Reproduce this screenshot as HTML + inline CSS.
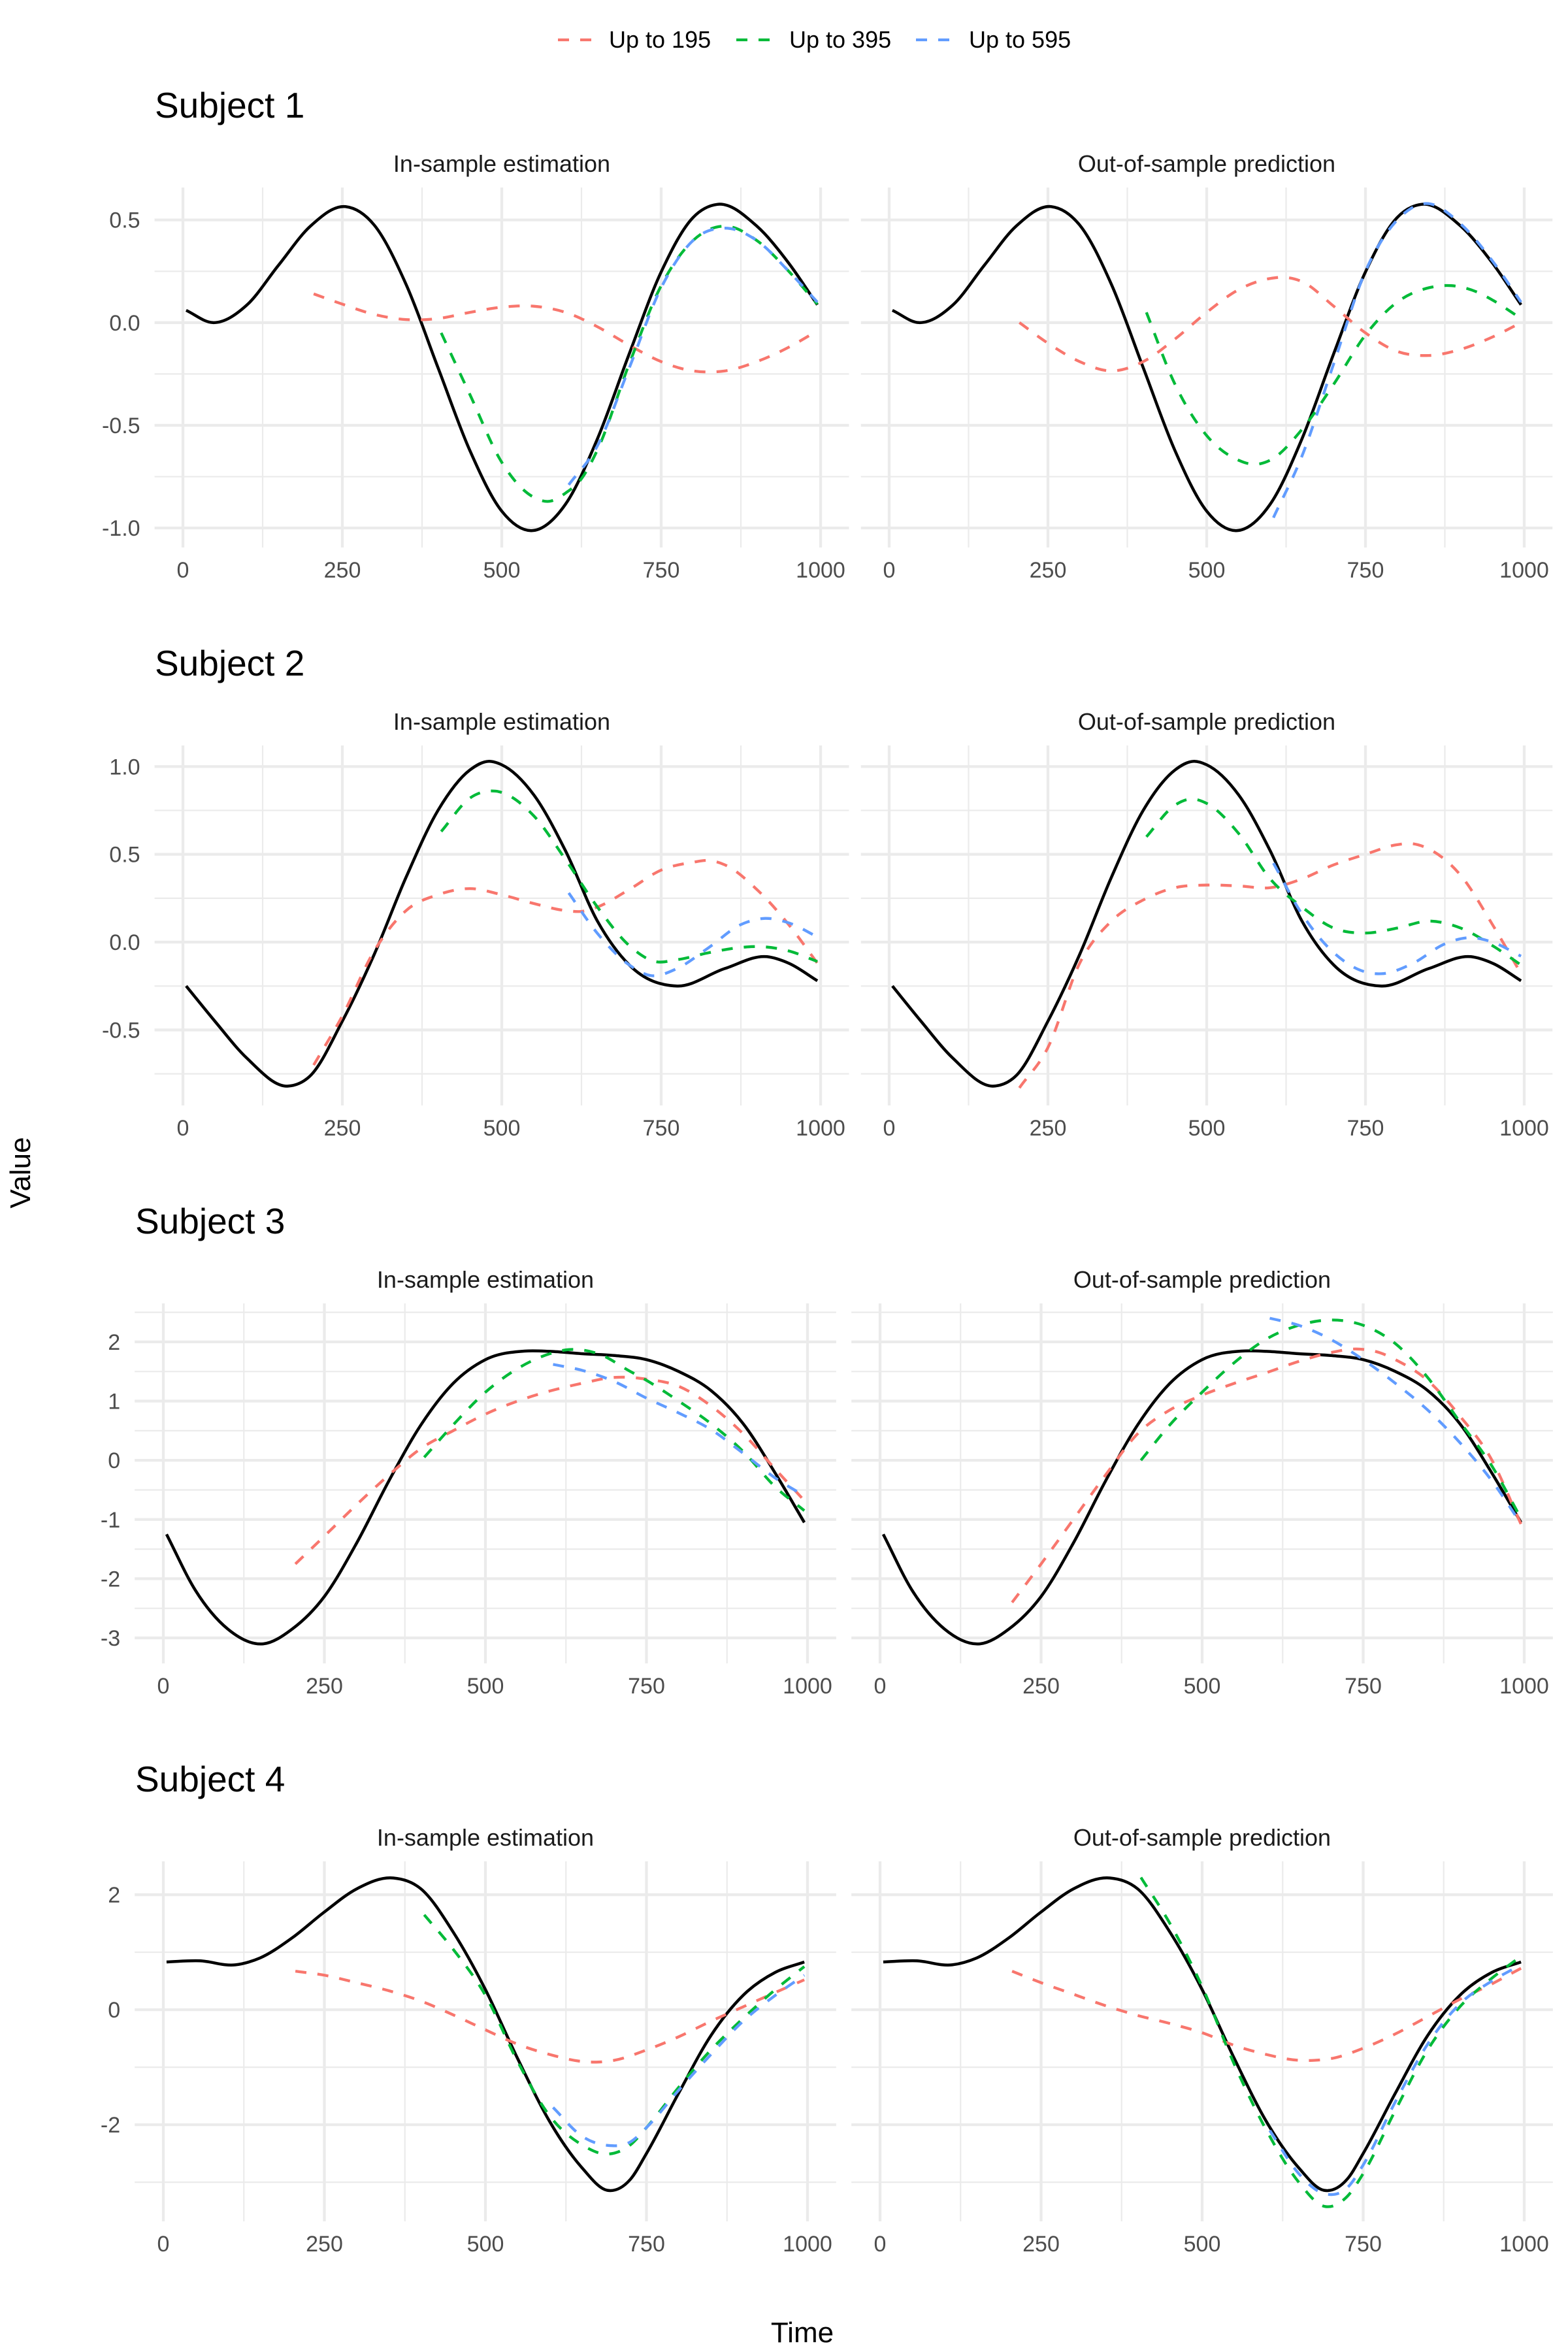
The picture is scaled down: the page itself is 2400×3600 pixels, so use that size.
<!DOCTYPE html>
<html><head><meta charset="utf-8"><style>
html,body{margin:0;padding:0;background:#fff;}
svg{display:block;}
text{font-family:"Liberation Sans",Arial,sans-serif;}
</style></head><body>
<svg id="chart" width="2400" height="3600" viewBox="0 0 2400 3600" xmlns="http://www.w3.org/2000/svg">
<g>
 <line x1="854" y1="61" x2="907" y2="61" stroke="#F8766D" stroke-width="4.3" stroke-dasharray="17 17"/>
 <text x="932" y="73" font-size="36" fill="#000">Up to 195</text>
 <line x1="1127" y1="61" x2="1180" y2="61" stroke="#00BA38" stroke-width="4.3" stroke-dasharray="17 17"/>
 <text x="1208" y="73" font-size="36" fill="#000">Up to 395</text>
 <line x1="1402" y1="61" x2="1455" y2="61" stroke="#619CFF" stroke-width="4.3" stroke-dasharray="17 17"/>
 <text x="1483" y="73" font-size="36" fill="#000">Up to 595</text>
</g>
<text x="0" y="0" font-size="44" text-anchor="middle" transform="translate(46,1795) rotate(-90)">Value</text>
<text x="1228" y="3585" font-size="44" text-anchor="middle">Time</text>
<g id="panels"></g>
</svg>
<script>
// x ticks shared
const xTicks = [0, 250, 500, 750, 1000];
const xMinor = [125, 375, 625, 875];
const subjectNames = ["Subject 1", "Subject 2", "Subject 3", "Subject 4"];
const panelTitles = ["In-sample estimation", "Out-of-sample prediction"];

// y axis per subject
const s1Domain = [-1.095, 0.658];
const s2Domain = [-0.93, 1.12];
const s3Domain = [-3.43, 2.65];
const s4Domain = [-3.68, 2.58];
const s1YTicks = [-1.0, -0.5, 0.0, 0.5];
const s1YTickLabels = ["-1.0", "-0.5", "0.0", "0.5"];
const s2YTicks = [-0.5, 0.0, 0.5, 1.0];
const s2YTickLabels = ["-0.5", "0.0", "0.5", "1.0"];
const s3YTicks = [-3, -2, -1, 0, 1, 2];
const s3YTickLabels = ["-3", "-2", "-1", "0", "1", "2"];
const s4YTicks = [-2, 0, 2];
const s4YTickLabels = ["-2", "0", "2"];
const s1YMinor = [-0.75, -0.25, 0.25];
const s2YMinor = [-0.75, -0.25, 0.25, 0.75];
const s3YMinor = [-2.5, -1.5, -0.5, 0.5, 1.5, 2.5];
const s4YMinor = [-3, -1, 1];

// Subject 1
const s1TruthT = [5, 47, 100, 150, 200, 255, 300, 350, 400, 450, 500, 546, 600, 650, 700, 750, 800, 838, 900, 950, 995];
const s1TruthV = [0.06, 0, 0.085, 0.28, 0.47, 0.565, 0.475, 0.186, -0.219, -0.623, -0.918, -1.013, -0.884, -0.566, -0.151, 0.247, 0.512, 0.576, 0.47, 0.29, 0.087];
const s1InRedT = [205, 250, 300, 350, 400, 450, 500, 550, 600, 650, 700, 750, 800, 830, 850, 900, 950, 995];
const s1InRedV = [0.14, 0.09, 0.04, 0.015, 0.02, 0.05, 0.075, 0.08, 0.05, -0.02, -0.11, -0.19, -0.235, -0.24, -0.235, -0.19, -0.12, -0.04];
const s1InGreenT = [405, 450, 500, 550, 575, 600, 625, 650, 700, 750, 800, 850, 900, 950, 995];
const s1InGreenV = [-0.05, -0.35, -0.68, -0.85, -0.87, -0.83, -0.76, -0.62, -0.2, 0.18, 0.4, 0.47, 0.4, 0.25, 0.09];
const s1InBlueT = [605, 650, 700, 750, 800, 850, 900, 950, 995];
const s1InBlueV = [-0.79, -0.6, -0.22, 0.17, 0.4, 0.46, 0.4, 0.25, 0.1];
const s1OutRedT = [205, 250, 300, 350, 400, 450, 500, 550, 600, 625, 650, 700, 750, 800, 850, 900, 950, 995];
const s1OutRedV = [0.0, -0.1, -0.19, -0.235, -0.19, -0.08, 0.05, 0.16, 0.215, 0.22, 0.2, 0.08, -0.05, -0.14, -0.16, -0.13, -0.07, 0.0];
const s1OutGreenT = [405, 450, 500, 550, 577, 600, 650, 700, 750, 800, 850, 885, 925, 950, 995];
const s1OutGreenV = [0.05, -0.3, -0.55, -0.67, -0.69, -0.67, -0.52, -0.3, -0.06, 0.1, 0.17, 0.18, 0.15, 0.11, 0.02];
const s1OutBlueT = [605, 650, 700, 750, 800, 845, 900, 950, 995];
const s1OutBlueV = [-0.95, -0.65, -0.2, 0.25, 0.5, 0.58, 0.48, 0.3, 0.1];

// Subject 2
const s2TruthT = [5, 50, 100, 165, 200, 250, 300, 350, 400, 450, 480, 500, 550, 600, 650, 700, 775, 850, 916, 950, 995];
const s2TruthV = [-0.25, -0.45, -0.66, -0.82, -0.76, -0.45, -0.07, 0.37, 0.75, 0.98, 1.03, 1.01, 0.84, 0.52, 0.12, -0.13, -0.25, -0.15, -0.083, -0.12, -0.22];
const s2InRedT = [205, 250, 300, 350, 400, 450, 500, 550, 600, 625, 650, 700, 750, 800, 825, 850, 900, 950, 995];
const s2InRedV = [-0.7, -0.42, -0.05, 0.18, 0.27, 0.305, 0.27, 0.22, 0.18, 0.175, 0.2, 0.3, 0.41, 0.455, 0.465, 0.44, 0.3, 0.1, -0.12];
const s2InGreenT = [405, 450, 490, 550, 600, 650, 700, 740, 775, 825, 875, 900, 950, 995];
const s2InGreenV = [0.63, 0.82, 0.86, 0.72, 0.47, 0.2, -0.02, -0.11, -0.1, -0.06, -0.03, -0.025, -0.05, -0.11];
const s2InBlueT = [605, 650, 700, 733, 775, 825, 875, 913, 950, 995];
const s2InBlueV = [0.28, 0.05, -0.13, -0.19, -0.15, -0.03, 0.1, 0.135, 0.11, 0.03];
const s2OutRedT = [205, 250, 300, 350, 400, 450, 500, 550, 600, 650, 700, 750, 800, 825, 850, 900, 950, 995];
const s2OutRedV = [-0.83, -0.6, -0.12, 0.12, 0.24, 0.31, 0.325, 0.32, 0.31, 0.36, 0.44, 0.5, 0.555, 0.56, 0.53, 0.38, 0.1, -0.18];
const s2OutGreenT = [405, 450, 475, 500, 550, 600, 650, 700, 750, 800, 850, 900, 950, 995];
const s2OutGreenV = [0.6, 0.78, 0.815, 0.79, 0.62, 0.36, 0.2, 0.08, 0.052, 0.08, 0.12, 0.08, -0.02, -0.13];
const s2OutBlueT = [605, 650, 700, 750, 775, 825, 875, 913, 950, 995];
const s2OutBlueV = [0.45, 0.16, -0.06, -0.17, -0.18, -0.12, -0.01, 0.025, 0.0, -0.08];

// Subject 3
const s3TruthT = [5, 50, 100, 155, 200, 250, 300, 350, 400, 450, 500, 561, 600, 650, 700, 750, 800, 850, 900, 950, 995];
const s3TruthV = [-1.25, -2.2, -2.85, -3.1, -2.85, -2.3, -1.4, -0.35, 0.6, 1.3, 1.7, 1.845, 1.84, 1.8, 1.77, 1.7, 1.5, 1.18, 0.62, -0.22, -1.05];
const s3InRedT = [205, 250, 300, 350, 400, 450, 500, 550, 600, 650, 700, 725, 750, 800, 850, 900, 950, 995];
const s3InRedV = [-1.75, -1.28, -0.75, -0.25, 0.2, 0.5, 0.78, 1.0, 1.17, 1.3, 1.4, 1.4, 1.37, 1.25, 0.92, 0.45, -0.15, -0.68];
const s3InGreenT = [405, 450, 500, 550, 600, 630, 675, 725, 750, 800, 850, 900, 950, 995];
const s3InGreenV = [0.05, 0.6, 1.15, 1.55, 1.8, 1.87, 1.8, 1.5, 1.35, 1.0, 0.62, 0.15, -0.45, -0.85];
const s3InBlueT = [605, 650, 700, 750, 800, 850, 900, 950, 995];
const s3InBlueV = [1.62, 1.52, 1.33, 1.05, 0.8, 0.52, 0.12, -0.3, -0.6];
const s3OutRedT = [205, 250, 300, 350, 400, 450, 500, 550, 600, 650, 700, 740, 775, 800, 850, 900, 950, 995];
const s3OutRedV = [-2.4, -1.75, -1.0, -0.25, 0.45, 0.85, 1.1, 1.3, 1.48, 1.67, 1.82, 1.88, 1.82, 1.7, 1.35, 0.75, 0.0, -1.08];
const s3OutGreenT = [405, 450, 500, 550, 600, 650, 700, 750, 800, 850, 900, 950, 995];
const s3OutGreenV = [0.0, 0.6, 1.15, 1.65, 2.05, 2.28, 2.37, 2.28, 1.97, 1.4, 0.65, -0.1, -0.98];
const s3OutBlueT = [605, 650, 700, 750, 800, 850, 900, 950, 995];
const s3OutBlueV = [2.4, 2.28, 2.04, 1.7, 1.3, 0.85, 0.3, -0.35, -1.07];

// Subject 4
const s4TruthT = [5, 57, 112, 150, 200, 250, 300, 357, 400, 450, 500, 550, 600, 650, 689, 725, 750, 800, 850, 900, 950, 995];
const s4TruthV = [0.83, 0.85, 0.78, 0.9, 1.25, 1.7, 2.1, 2.29, 2.1, 1.35, 0.35, -0.85, -1.95, -2.75, -3.14, -2.95, -2.5, -1.45, -0.45, 0.25, 0.65, 0.83];
const s4InRedT = [205, 250, 300, 350, 400, 450, 500, 550, 600, 650, 675, 700, 750, 800, 850, 900, 950, 995];
const s4InRedV = [0.67, 0.6, 0.47, 0.33, 0.15, -0.09, -0.35, -0.6, -0.78, -0.9, -0.91, -0.88, -0.7, -0.47, -0.2, 0.05, 0.3, 0.52];
const s4InGreenT = [405, 450, 500, 550, 600, 650, 690, 725, 750, 800, 850, 900, 950, 995];
const s4InGreenV = [1.65, 1.05, 0.25, -0.9, -1.85, -2.35, -2.51, -2.35, -2.05, -1.35, -0.7, -0.15, 0.35, 0.75];
const s4InBlueT = [605, 650, 690, 725, 750, 800, 850, 900, 950, 995];
const s4InBlueV = [-1.7, -2.2, -2.36, -2.3, -2.05, -1.4, -0.78, -0.2, 0.25, 0.6];
const s4OutRedT = [205, 250, 300, 350, 400, 450, 500, 550, 600, 650, 675, 700, 750, 800, 850, 900, 950, 995];
const s4OutRedV = [0.67, 0.47, 0.27, 0.07, -0.1, -0.24, -0.4, -0.62, -0.78, -0.88, -0.88, -0.85, -0.67, -0.42, -0.12, 0.18, 0.45, 0.72];
const s4OutGreenT = [405, 450, 500, 550, 600, 650, 690, 725, 750, 800, 850, 900, 950, 995];
const s4OutGreenV = [2.3, 1.5, 0.4, -0.95, -2.1, -3.0, -3.42, -3.25, -2.85, -1.75, -0.7, 0.05, 0.55, 0.93];
const s4OutBlueT = [605, 650, 690, 725, 750, 800, 850, 900, 950, 995];
const s4OutBlueV = [-2.1, -2.85, -3.2, -3.1, -2.7, -1.6, -0.6, 0.1, 0.5, 0.78];

const NS = "http://www.w3.org/2000/svg";
const root = document.getElementById("panels");
function mk(tag, attrs, parent) {
  const e = document.createElementNS(NS, tag);
  for (const k in attrs) e.setAttribute(k, attrs[k]);
  (parent || root).appendChild(e);
  return e;
}
// Non-uniform cubic Hermite spline in data space, mapped to pixels.
function smoothPath(T, V, xs, ys) {
  const n = T.length;
  const m = [];
  for (let i = 0; i < n; i++) {
    if (i === 0) m.push((V[1] - V[0]) / (T[1] - T[0]));
    else if (i === n - 1) m.push((V[n - 1] - V[n - 2]) / (T[n - 1] - T[n - 2]));
    else {
      const d0 = (V[i] - V[i - 1]) / (T[i] - T[i - 1]);
      const d1 = (V[i + 1] - V[i]) / (T[i + 1] - T[i]);
      const h0 = T[i] - T[i - 1], h1 = T[i + 1] - T[i];
      m.push((d0 * h1 + d1 * h0) / (h0 + h1));
    }
  }
  let d = "M" + xs(T[0]).toFixed(1) + "," + ys(V[0]).toFixed(1);
  for (let i = 0; i < n - 1; i++) {
    const h = T[i + 1] - T[i];
    const c1t = T[i] + h / 3, c1v = V[i] + m[i] * h / 3;
    const c2t = T[i + 1] - h / 3, c2v = V[i + 1] - m[i + 1] * h / 3;
    d += "C" + xs(c1t).toFixed(1) + "," + ys(c1v).toFixed(1) + " " + xs(c2t).toFixed(1) + "," + ys(c2v).toFixed(1) + " " + xs(T[i + 1]).toFixed(1) + "," + ys(V[i + 1]).toFixed(1);
  }
  return d;
}

const subjects = [
  {domain: s1Domain, ticks: s1YTicks, labels: s1YTickLabels, minor: s1YMinor, truthT: s1TruthT, truthV: s1TruthV,
   series: [[[s1InRedT, s1InRedV], [s1InGreenT, s1InGreenV], [s1InBlueT, s1InBlueV]], [[s1OutRedT, s1OutRedV], [s1OutGreenT, s1OutGreenV], [s1OutBlueT, s1OutBlueV]]]},
  {domain: s2Domain, ticks: s2YTicks, labels: s2YTickLabels, minor: s2YMinor, truthT: s2TruthT, truthV: s2TruthV,
   series: [[[s2InRedT, s2InRedV], [s2InGreenT, s2InGreenV], [s2InBlueT, s2InBlueV]], [[s2OutRedT, s2OutRedV], [s2OutGreenT, s2OutGreenV], [s2OutBlueT, s2OutBlueV]]]},
  {domain: s3Domain, ticks: s3YTicks, labels: s3YTickLabels, minor: s3YMinor, truthT: s3TruthT, truthV: s3TruthV,
   series: [[[s3InRedT, s3InRedV], [s3InGreenT, s3InGreenV], [s3InBlueT, s3InBlueV]], [[s3OutRedT, s3OutRedV], [s3OutGreenT, s3OutGreenV], [s3OutBlueT, s3OutBlueV]]]},
  {domain: s4Domain, ticks: s4YTicks, labels: s4YTickLabels, minor: s4YMinor, truthT: s4TruthT, truthV: s4TruthV,
   series: [[[s4InRedT, s4InRedV], [s4InGreenT, s4InGreenV], [s4InBlueT, s4InBlueV]], [[s4OutRedT, s4OutRedV], [s4OutGreenT, s4OutGreenV], [s4OutBlueT, s4OutBlueV]]]}
];
const colors = ["#F8766D", "#00BA38", "#619CFF"];
const seriesNames = ["up-to-195", "up-to-395", "up-to-595"];
const layoutWide = [[280, 1256], [1361, 2333]];
const layoutNarrow = [[250, 1236], [1347, 2333]];

subjects.forEach((s, r) => {
  const off = r * 854;
  const top = 287 + off, bot = 838 + off;
  const lay = r < 2 ? layoutWide : layoutNarrow;
  const yScale = v => bot - (v - s.domain[0]) / (s.domain[1] - s.domain[0]) * (bot - top);
  const st = mk("text", {x: lay[0][0] - 43, y: 180 + off, "font-size": 55, fill: "#000"});
  st.textContent = subjectNames[r];
  
  
  [0, 1].forEach(c => {
    const x0 = lay[c][0], x1 = lay[c][1];
    const xScale = t => x0 + t / 1000 * (x1 - x0);
    const left = xScale(-44.5), right = xScale(1044.5);
    const g = mk("g", {});
    
    
    const pt = mk("text", {x: (left + right) / 2, y: 263 + off, "font-size": 36, fill: "#1A1A1A", "text-anchor": "middle"}, g);
    pt.textContent = panelTitles[c];
    
    
    s.minor.forEach(v => {
      const l = mk("line", {x1: left, x2: right, y1: yScale(v), y2: yScale(v), stroke: "#EBEBEB", "stroke-width": 2.2}, g);
      
      
    });
    xMinor.forEach(t => {
      const l = mk("line", {x1: xScale(t), x2: xScale(t), y1: top, y2: bot, stroke: "#EBEBEB", "stroke-width": 2.2}, g);
      
      
    });
    s.ticks.forEach((v, i) => {
      const l = mk("line", {x1: left, x2: right, y1: yScale(v), y2: yScale(v), stroke: "#EBEBEB", "stroke-width": 4.3}, g);
      
      
      if (c === 0) {
        const tl = mk("text", {x: left - 22, y: yScale(v) + 12, "font-size": 34, fill: "#4D4D4D", "text-anchor": "end"}, g);
        tl.textContent = s.labels[i];
        
        
      }
    });
    xTicks.forEach(t => {
      const l = mk("line", {x1: xScale(t), x2: xScale(t), y1: top, y2: bot, stroke: "#EBEBEB", "stroke-width": 4.3}, g);
      
      
      const tl = mk("text", {x: xScale(t), y: bot + 46, "font-size": 34, fill: "#4D4D4D", "text-anchor": "middle"}, g);
      tl.textContent = String(t);
      
      
    });
    const tp = mk("path", {d: smoothPath(s.truthT, s.truthV, xScale, yScale), fill: "none", stroke: "#000", "stroke-width": 4.5}, g);
    
    
    s.series[c].forEach((sr, k) => {
      const p = mk("path", {d: smoothPath(sr[0], sr[1], xScale, yScale), fill: "none", stroke: colors[k], "stroke-width": 4.3, "stroke-dasharray": "17 17"}, g);
      
      
    });
  });
});
</script>
</body></html>
